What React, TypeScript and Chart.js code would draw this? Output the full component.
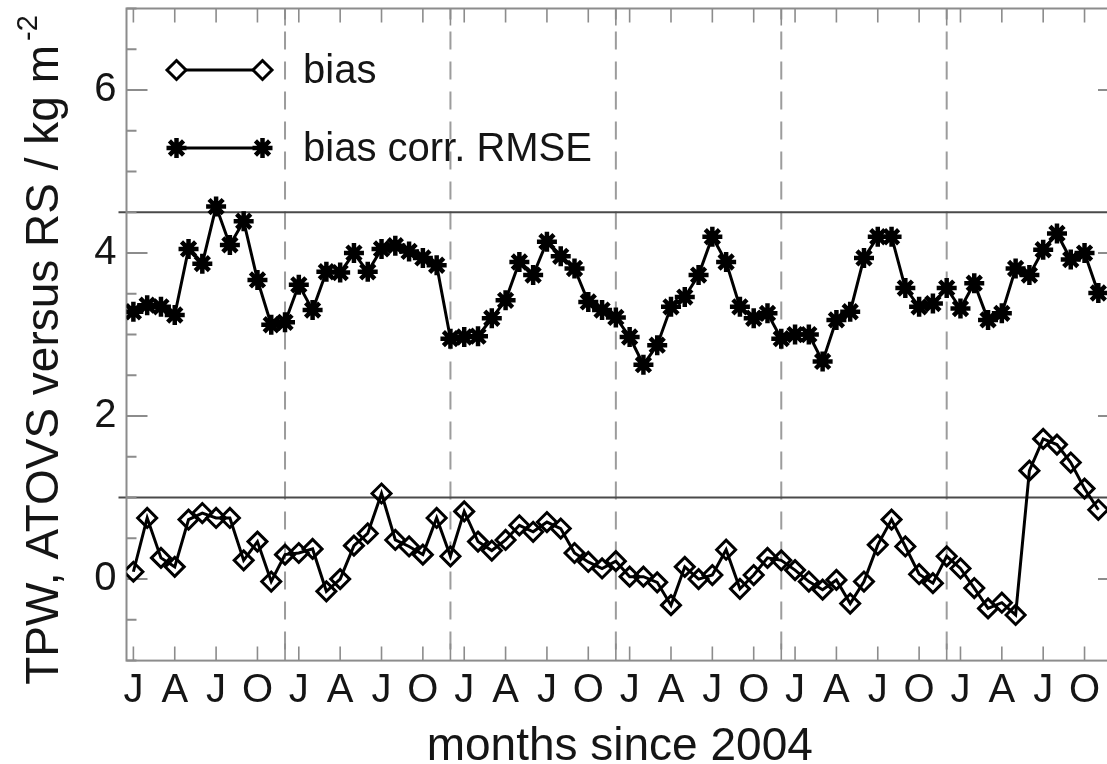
import { useEffect, useRef } from 'react';
import { Chart, registerables } from 'chart.js';
import { drawPoint } from 'chart.js/helpers';

Chart.register(...registerables);

// ---- data (monthly, month 1 = Jan 2004) ----
const months = Array.from({ length: 71 }, (_, i) => i + 1);

const rmse = [
  3.28, 3.36, 3.34, 3.24, 4.05, 3.87, 4.57, 4.10, 4.39, 3.67, 3.12, 3.15,
  3.61, 3.30, 3.77, 3.76, 4.00, 3.77, 4.05, 4.09, 4.02, 3.94, 3.85, 2.95,
  2.97, 2.98, 3.20, 3.42, 3.89, 3.73, 4.14, 3.96, 3.81, 3.40, 3.30, 3.21,
  2.97, 2.63, 2.87, 3.34, 3.46, 3.73, 4.20, 3.89, 3.34, 3.20, 3.26, 2.95,
  3.00, 3.00, 2.67, 3.18, 3.28, 3.94, 4.20, 4.20, 3.57, 3.34, 3.38, 3.57,
  3.32, 3.63, 3.18, 3.26, 3.81, 3.73, 4.04, 4.24, 3.92, 4.00, 3.51,
];

const bias = [
  0.09, 0.75, 0.26, 0.15, 0.73, 0.81, 0.75, 0.75, 0.23, 0.46, -0.03, 0.30,
  0.32, 0.37, -0.15, 0.00, 0.41, 0.56, 1.05, 0.48, 0.40, 0.30, 0.75, 0.28,
  0.83, 0.46, 0.35, 0.48, 0.66, 0.58, 0.70, 0.62, 0.32, 0.21, 0.13, 0.22,
  0.03, 0.03, -0.04, -0.32, 0.15, 0.00, 0.05, 0.36, -0.12, 0.05, 0.26, 0.23,
  0.11, -0.03, -0.13, -0.01, -0.30, -0.03, 0.42, 0.73, 0.40, 0.06, -0.05, 0.28,
  0.13, -0.11, -0.36, -0.29, -0.44, 1.33, 1.72, 1.65, 1.43, 1.11, 0.85,
];

const xTickMonths = [1, 4, 7, 10, 13, 16, 19, 22, 25, 28, 31, 34, 37, 40, 43, 46, 49, 52, 55, 58, 61, 64, 67, 70];
const xTickLabels = ['J', 'A', 'J', 'O', 'J', 'A', 'J', 'O', 'J', 'A', 'J', 'O', 'J', 'A', 'J', 'O', 'J', 'A', 'J', 'O', 'J', 'A', 'J', 'O'];
const yearMarks = [12, 24, 36, 48, 60, 72];
const yTickValues = [0, 2, 4, 6];
const yMinorStep = 0.5;
const refLines = [1.0, 4.5];
const xRange = [0.5, 72.5];
const yRange = [-1, 7];

const seriesNames = ['bias', 'bias corr. RMSE'];
const yTitle = 'TPW, ATOVS versus RS / kg m';
const yTitleSup = '-2';
const xTitle = 'months since 2004';

const FONT = '"Liberation Sans", Arial, Helvetica, sans-serif';
const TEXT = '#151515';
const OFF = 6; // canvas is shifted up by this many px inside the page

const decor = {
  id: 'decor',
  beforeDatasetsDraw(chart: any) {
    const { ctx, chartArea: a, scales } = chart;
    const x = scales.x;
    const y = scales.y;
    ctx.save();
    // dashed year separators
    ctx.strokeStyle = '#9c9c9c';
    ctx.lineWidth = 2;
    ctx.setLineDash([18, 12]);
    ctx.lineDashOffset = -23;
    yearMarks.forEach((m) => {
      const px = x.getPixelForValue(m);
      ctx.beginPath();
      ctx.moveTo(px, a.top);
      ctx.lineTo(px, a.bottom);
      ctx.stroke();
    });
    ctx.setLineDash([]);
    // reference horizontal lines
    ctx.strokeStyle = '#4a4a4a';
    ctx.lineWidth = 2;
    refLines.forEach((v) => {
      const py = y.getPixelForValue(v);
      ctx.beginPath();
      ctx.moveTo(a.left - 8, py);
      ctx.lineTo(a.right, py);
      ctx.stroke();
    });
    // frame
    ctx.strokeStyle = '#8c8c8c';
    ctx.lineWidth = 2;
    ctx.strokeRect(a.left, a.top, a.right - a.left, a.bottom - a.top);
    // y ticks (inward, both sides)
    for (let v = yRange[0]; v <= yRange[1] + 1e-9; v += yMinorStep) {
      const py = y.getPixelForValue(v);
      const len = yTickValues.includes(Math.round(v * 100) / 100) ? 21 : 10;
      ctx.beginPath();
      ctx.moveTo(a.left, py);
      ctx.lineTo(a.left + len, py);
      ctx.moveTo(a.right, py);
      ctx.lineTo(a.right - len, py);
      ctx.stroke();
    }
    // x ticks (inward, top and bottom)
    ctx.lineWidth = 1.6;
    xTickMonths.concat(yearMarks).forEach((m) => {
      const px = x.getPixelForValue(m);
      const len = yearMarks.includes(m) ? 17 : 14;
      ctx.beginPath();
      ctx.moveTo(px, a.bottom);
      ctx.lineTo(px, a.bottom - len);
      ctx.moveTo(px, a.top);
      ctx.lineTo(px, a.top + len);
      ctx.stroke();
    });
    ctx.restore();
  },
  afterDraw(chart: any) {
    const { ctx, chartArea: a } = chart;
    ctx.save();
    // legend
    const styles = ['rectRot', 'star'];
    const rows = [61.5, 139.5];
    const x1 = a.left + 50;
    const x2 = a.left + 136;
    rows.forEach((dy, i) => {
      const yy = a.top + dy;
      ctx.strokeStyle = '#000';
      ctx.lineWidth = 3;
      ctx.beginPath();
      ctx.moveTo(x1, yy);
      ctx.lineTo(x2, yy);
      ctx.stroke();
      ctx.fillStyle = '#fff';
      const bw = i === 0 ? 3 : 4.5;
      ctx.lineWidth = bw;
      [x1, x2].forEach((px) =>
        drawPoint(ctx, { pointStyle: styles[i], radius: i === 0 ? 9.5 : 10, rotation: 0, borderWidth: bw } as any, px, yy)
      );
      ctx.fillStyle = TEXT;
      ctx.font = `40px ${FONT}`;
      ctx.textAlign = 'left';
      ctx.textBaseline = 'middle';
      ctx.fillText(seriesNames[i], a.left + 176.5, yy + 2);
    });
    // x title
    ctx.fillStyle = TEXT;
    ctx.font = `46px ${FONT}`;
    ctx.textAlign = 'center';
    ctx.textBaseline = 'alphabetic';
    ctx.fillText(xTitle, (a.left + a.right) / 2 - 3, 760 + OFF);
    // y title (rotated, with superscript)
    ctx.font = `46px ${FONT}`;
    const w1 = ctx.measureText(yTitle).width;
    ctx.font = `29px ${FONT}`;
    const w2 = ctx.measureText(yTitleSup).width;
    const total = w1 + 4 + w2;
    ctx.translate(58, 350 + OFF + total / 2);
    ctx.rotate(-Math.PI / 2);
    ctx.textAlign = 'left';
    ctx.font = `46px ${FONT}`;
    ctx.fillText(yTitle, 0, 0);
    ctx.font = `29px ${FONT}`;
    ctx.fillText(yTitleSup, w1 + 4, -21);
    ctx.restore();
  },
};

export default function App() {
  const ref = useRef<HTMLCanvasElement | null>(null);
  useEffect(() => {
    if (!ref.current) return;
    const chart = new Chart(ref.current, {
      type: 'line',
      data: {
        datasets: [
          {
            label: seriesNames[0],
            data: months.map((m, i) => ({ x: m, y: bias[i] })),
            borderColor: '#000',
            borderWidth: 3,
            pointStyle: 'rectRot',
            pointRadius: 9.5,
            pointBorderWidth: 3,
            pointBorderColor: '#000',
            pointBackgroundColor: 'rgba(0,0,0,0)',
            tension: 0,
          },
          {
            label: seriesNames[1],
            data: months.map((m, i) => ({ x: m, y: rmse[i] })),
            borderColor: '#000',
            borderWidth: 3,
            pointStyle: 'star',
            pointRadius: 10,
            pointBorderWidth: 4.5,
            pointBorderColor: '#000',
            pointBackgroundColor: '#000',
            tension: 0,
          },
        ],
      },
      options: {
        animation: false,
        responsive: false,
        maintainAspectRatio: false,
        devicePixelRatio: 1,
        layout: { padding: { left: 0, top: 4, right: 21, bottom: 0 } },
        plugins: { legend: { display: false }, tooltip: { enabled: false } },
        scales: {
          x: {
            type: 'linear',
            min: xRange[0],
            max: xRange[1],
            grid: { display: false, drawTicks: false },
            border: { display: false },
            afterBuildTicks: (s: any) => {
              s.ticks = xTickMonths.map((v) => ({ value: v }));
            },
            afterFit: (s: any) => {
              s.height = 103.4;
              s.paddingLeft = 0;
              s.paddingRight = 0;
            },
            ticks: {
              autoSkip: false,
              maxRotation: 0,
              padding: 6,
              color: TEXT,
              font: { size: 40, family: FONT },
              callback: (v: any) => {
                const i = xTickMonths.indexOf(Number(v));
                return i >= 0 ? xTickLabels[i] : '';
              },
            },
          },
          y: {
            type: 'linear',
            min: yRange[0],
            max: yRange[1],
            grid: { display: false, drawTicks: false },
            border: { display: false },
            afterBuildTicks: (s: any) => {
              s.ticks = yTickValues.map((v) => ({ value: v }));
            },
            afterFit: (s: any) => {
              s.width = 126.5;
              s.paddingTop = 0;
              s.paddingBottom = 0;
            },
            ticks: {
              padding: 10,
              color: TEXT,
              font: { size: 40, family: FONT },
              callback: (v: any) => String(v),
            },
          },
        },
      },
      plugins: [decor],
    });
    return () => chart.destroy();
  }, []);
  return (
    <div style={{ position: 'fixed', left: 0, top: 0, width: 1107, height: 764, overflow: 'hidden', background: '#fff' }}>
      <canvas ref={ref} width={1140} height={764 + OFF} style={{ display: 'block', marginTop: -OFF }} />
    </div>
  );
}
